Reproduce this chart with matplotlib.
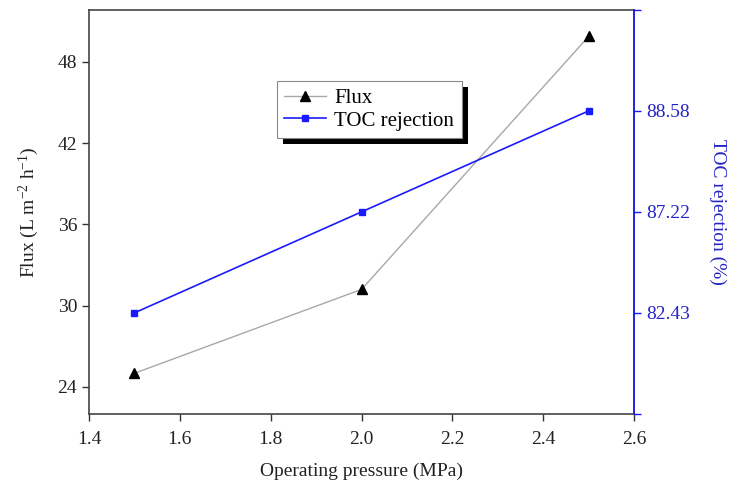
import matplotlib
matplotlib.use("Agg")
import matplotlib.pyplot as plt
import matplotlib.patheffects as pe
import numpy as np

# Data
pressure = np.array([1.5, 2.0, 2.5])
flux = np.array([25.0, 31.2, 49.9])
toc_rejection = np.array([82.43, 87.22, 88.58])

x_ticks = [1.4, 1.6, 1.8, 2.0, 2.2, 2.4, 2.6]
flux_ticks = [24, 30, 36, 42, 48]

plt.rcParams['font.family'] = ['Liberation Serif', 'DejaVu Serif']
plt.rcParams['mathtext.fontset'] = 'custom'
plt.rcParams['mathtext.rm'] = 'Liberation Serif'
plt.rcParams['mathtext.it'] = 'Liberation Serif:italic'
plt.rcParams['font.size'] = 14

blue = '#1a1aff'
label_blue = '#2424c8'


# the right axis in the original places the TOC values evenly spaced
def toc_fwd(v):
    v = np.asarray(v, dtype=float)
    pos = np.arange(len(toc_rejection), dtype=float)
    out = np.interp(v, toc_rejection, pos)
    lo = v < toc_rejection[0]
    hi = v > toc_rejection[-1]
    out = np.where(lo, (v - toc_rejection[0]) / (toc_rejection[1] - toc_rejection[0]), out)
    out = np.where(hi, pos[-1] + (v - toc_rejection[-1]) / (toc_rejection[-1] - toc_rejection[-2]), out)
    return out


def toc_inv(p):
    p = np.asarray(p, dtype=float)
    pos = np.arange(len(toc_rejection), dtype=float)
    out = np.interp(p, pos, toc_rejection)
    out = np.where(p < 0, toc_rejection[0] + p * (toc_rejection[1] - toc_rejection[0]), out)
    out = np.where(p > pos[-1], toc_rejection[-1] + (p - pos[-1]) * (toc_rejection[-1] - toc_rejection[-2]), out)
    return out


fig = plt.figure(figsize=(7.29, 4.91), dpi=100)
ax = fig.add_axes([0.122, 0.157, 0.748, 0.823])

l1, = ax.plot(pressure, flux, color='#a8a8a8', lw=1.0, marker='^', ms=7,
              mfc='black', mec='black', label='Flux')
ax.set_xlim(1.4, 2.6)
ax.set_ylim(22.0, 51.85)
ax.set_xticks(x_ticks)
ax.set_xticklabels([f'{t:.1f}' for t in x_ticks])
ax.set_yticks(flux_ticks)
ax.tick_params(direction='out', length=5, width=1, colors='#333333', labelcolor='#222222')
ax.tick_params(axis='x', pad=7)
ax.tick_params(axis='y', right=False)
for s in ax.spines.values():
    s.set_color('#444444')
    s.set_linewidth(1.2)
ax.set_xlabel('Operating pressure (MPa)', labelpad=11, color='#222222')
ax.set_ylabel('Flux (L m$^{-2}$ h$^{-1}$)', labelpad=12, color='#222222')

ax2 = ax.twinx()
ax2.set_yscale('function', functions=(toc_fwd, toc_inv))
l2, = ax2.plot(pressure, toc_rejection, color=blue, lw=1.2, marker='s', ms=5,
               mfc=blue, mec=blue, label='TOC rejection')
lim_lo = float(toc_inv(-1.0))
lim_hi = float(toc_inv(3.0))
ax2.set_ylim(lim_lo, lim_hi)
ax2.set_yticks([lim_lo] + list(toc_rejection) + [lim_hi])
ax2.set_yticklabels([''] + [f'{v:.2f}' for v in toc_rejection] + [''])
ax2.minorticks_off()
ax2.tick_params(direction='out', length=5, width=1, colors=blue, labelcolor=label_blue)
ax2.spines['right'].set_color(blue)
ax2.spines['right'].set_linewidth(1.2)
for k in ['top', 'left', 'bottom']:
    ax2.spines[k].set_visible(False)
ax2.set_ylabel('TOC rejection (%)', rotation=270, labelpad=26, color=label_blue)

leg = ax2.legend(handles=[l1, l2], loc='upper left', bbox_to_anchor=(0.345, 0.824),
                 borderaxespad=0, fancybox=False, frameon=True, edgecolor='#888888',
                 facecolor='white', framealpha=1.0,
                 handlelength=2.0, handletextpad=0.4, borderpad=0.35, labelspacing=0.15,
                 fontsize=15)
leg.get_frame().set_linewidth(0.8)
leg.get_frame().set_path_effects([
    pe.SimplePatchShadow(offset=(4.5, -4.5), shadow_rgbFace='black', alpha=1.0),
    pe.Normal()])

fig.savefig('out.png', dpi=100)
